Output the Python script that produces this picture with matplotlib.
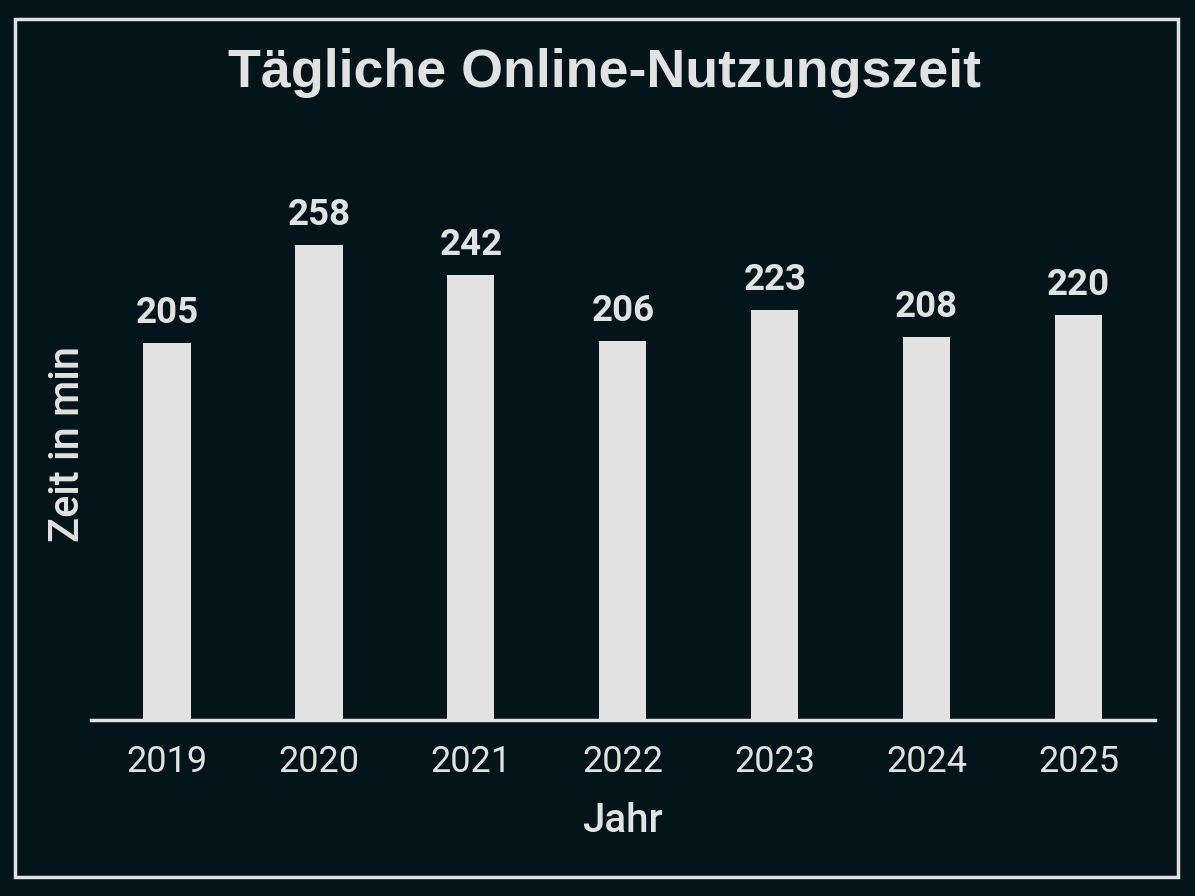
import matplotlib.pyplot as plt
from matplotlib.patches import Rectangle

jahre = ["2019", "2020", "2021", "2022", "2023", "2024", "2025"]
minuten = [205, 258, 242, 206, 223, 208, 220]

bg = "#03141a"
fg = "#e2e2e2"

fig = plt.figure(figsize=(11.95, 8.96), dpi=100, facecolor=bg)
ax = fig.add_axes([0.0762, 0.1964, 0.89, 0.616])
ax.set_facecolor(bg)

x = range(len(jahre))
ax.bar(x, minuten, width=0.31, color=fg, zorder=2)
for xi, v in zip(x, minuten):
    ax.text(xi, v + 6.5, str(v), ha="center", va="bottom", color=fg,
            fontsize=26.5, fontweight="bold", family="Roboto")

ax.set_xlim(-0.5, 6.5)
ax.set_ylim(0, 300)
ax.set_xticks(list(x))
ax.set_xticklabels(jahre, family="Roboto", fontsize=26, color=fg)
ax.tick_params(axis="x", length=0, pad=17)
ax.set_yticks([])
for s in ["top", "right", "left"]:
    ax.spines[s].set_visible(False)
ax.spines["bottom"].set_color(fg)
ax.spines["bottom"].set_linewidth(2.5)

ax.set_xlabel("Jahr", family="Roboto", fontsize=29, fontweight="medium",
              color=fg, labelpad=16)
ax.set_ylabel("Zeit in min", family="Roboto", fontsize=30, fontweight="medium",
              color=fg, labelpad=2)

fig.text(0.506, 0.919, "Tägliche Online-Nutzungszeit", ha="center", va="center",
         color=fg, fontsize=38.7, fontweight="bold", family="Liberation Sans")

fig.patches.append(Rectangle((15 / 1195, 1 - 877 / 896), 1163 / 1195, 858 / 896,
                             transform=fig.transFigure, fill=False,
                             edgecolor=fg, linewidth=2.5))

fig.savefig("out.png", dpi=100, facecolor=bg)
